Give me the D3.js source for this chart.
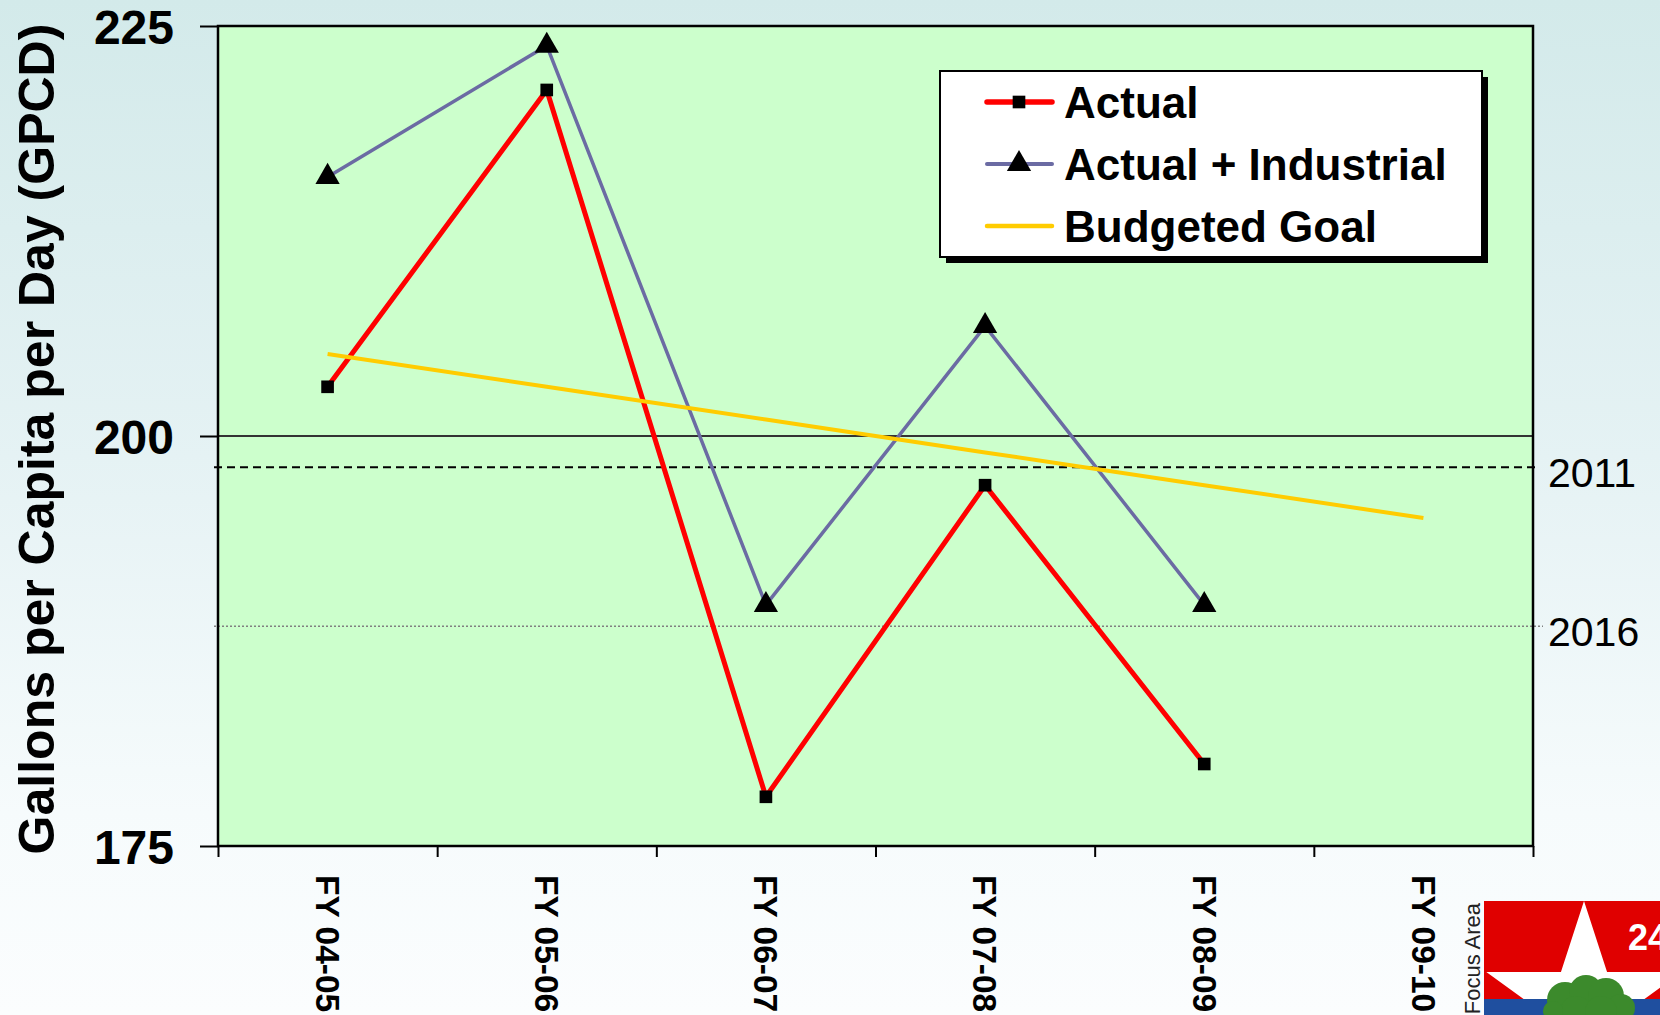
<!DOCTYPE html>
<html>
<head>
<meta charset="utf-8">
<script src="https://cdn.jsdelivr.net/npm/d3@7"></script>
<style>
  html, body { margin: 0; padding: 0; overflow: hidden; background: #ffffff; }
  svg { display: block; }
  text { font-family: "Liberation Sans", Arial, Helvetica, sans-serif; }
</style>
</head>
<body>
<svg id="chart" width="1660" height="1015"></svg>
<script>
// Fiscal years on the category axis
const categories = ["FY 04-05", "FY 05-06", "FY 06-07", "FY 07-08", "FY 08-09", "FY 09-10"];

// Gallons per capita per day, one value per fiscal year
const actual = [203.0, 221.1, 178.0, 197.0, 180.0];
const actualIndustrial = [215.8, 223.8, 189.7, 206.7, 189.7];
const budgetedGoal = [205, 203, 201, 199, 197, 195];

// Conservation targets shown as reference lines
const targetLabels = ["2011", "2016"];
const targetValues = [198.1, 188.4];

// Value axis
const yDomain = [175, 225];
const yTicks = [175, 200, 225];

const seriesNames = ["Actual", "Actual + Industrial", "Budgeted Goal"];

const W = 1660, H = 1015;
const plot = { left: 218, right: 1533, top: 26, bottom: 846 };

const svg = d3.select("#chart");

// page background
const defs = svg.append("defs");
const bg = defs.append("linearGradient").attr("id", "bg").attr("x1", 0).attr("y1", 0).attr("x2", 0).attr("y2", 1);
bg.append("stop").attr("offset", "0").attr("stop-color", "#d3eaea");
bg.append("stop").attr("offset", "0.45").attr("stop-color", "#e5f2f4");
bg.append("stop").attr("offset", "0.8").attr("stop-color", "#f6fbfc");
bg.append("stop").attr("offset", "1").attr("stop-color", "#fbfdfe");
svg.append("rect").attr("width", W).attr("height", H).attr("fill", "url(#bg)");

// scales
const x = d3.scaleBand().domain(categories).range([plot.left, plot.right]);
const xEdge = d3.scaleLinear().domain([0, categories.length]).range([plot.left, plot.right]);
const y = d3.scaleLinear().domain(yDomain).range([plot.bottom, plot.top]);
const cx = i => x(categories[i]) + x.bandwidth() / 2;

// plot area
svg.append("rect")
  .attr("x", plot.left).attr("y", plot.top)
  .attr("width", plot.right - plot.left).attr("height", plot.bottom - plot.top)
  .attr("fill", "#ccffcc");

// major gridlines
svg.append("g").selectAll("line")
  .data(yTicks.filter(v => v > yDomain[0] && v < yDomain[1]))
  .join("line")
  .attr("x1", plot.left).attr("x2", plot.right)
  .attr("y1", d => y(d)).attr("y2", d => y(d))
  .attr("stroke", "#333333").attr("stroke-width", 2);

// target reference lines
const targetStyles = [
  { dash: "8,5", color: "#000000", width: 2, x1: plot.left - 4, x2: plot.right + 6 },
  { dash: "2,2", color: "#808080", width: 1.5, x1: plot.left - 4, x2: plot.right + 10 }
];
targetValues.forEach((v, i) => {
  const s = targetStyles[i];
  svg.append("line")
    .attr("x1", s.x1).attr("x2", s.x2)
    .attr("y1", y(v)).attr("y2", y(v))
    .attr("stroke", s.color).attr("stroke-width", s.width)
    .attr("stroke-dasharray", s.dash);
  svg.append("text")
    .attr("x", plot.right + 15).attr("y", y(v) + 20)
    .attr("font-size", 41).attr("fill", "#000")
    .text(targetLabels[i]);
});

// plot border
svg.append("rect")
  .attr("x", plot.left).attr("y", plot.top)
  .attr("width", plot.right - plot.left).attr("height", plot.bottom - plot.top)
  .attr("fill", "none").attr("stroke", "#000").attr("stroke-width", 2.5);

// value axis
const yAxis = svg.append("g")
  .attr("transform", `translate(${plot.left},0)`)
  .call(d3.axisLeft(y).tickValues(yTicks).tickSize(18).tickSizeOuter(0).tickPadding(26));
yAxis.select(".domain").remove();
yAxis.selectAll(".tick line").attr("stroke", "#000").attr("stroke-width", 2);
yAxis.selectAll(".tick text")
  .attr("font-size", 48).attr("font-weight", "bold").attr("fill", "#000")
  .attr("font-family", "'Liberation Sans', Arial, sans-serif")
  .attr("dy", "0.36em");

// category axis: ticks between categories
const xTickAxis = svg.append("g")
  .attr("transform", `translate(0,${plot.bottom})`)
  .call(d3.axisBottom(xEdge).tickValues(d3.range(categories.length + 1)).tickSize(11).tickSizeOuter(0).tickFormat(""));
xTickAxis.select(".domain").remove();
xTickAxis.selectAll(".tick line").attr("stroke", "#000").attr("stroke-width", 2);

// category labels, set vertically below the axis
const xLabelAxis = svg.append("g")
  .attr("transform", `translate(0,${plot.bottom})`)
  .call(d3.axisBottom(x).tickSize(0));
xLabelAxis.select(".domain").remove();
xLabelAxis.selectAll(".tick text")
  .attr("transform", "rotate(90)")
  .attr("x", 29).attr("y", 0).attr("dy", "0.35em")
  .style("text-anchor", "start")
  .attr("font-size", 33.5).attr("font-weight", "bold").attr("fill", "#000")
  .attr("font-family", "'Liberation Sans', Arial, sans-serif");

// axis title
svg.append("text")
  .attr("transform", `translate(54,439) rotate(-90)`)
  .attr("text-anchor", "middle")
  .attr("font-size", 50).attr("font-weight", "bold").attr("fill", "#000")
  .text("Gallons per Capita per Day (GPCD)");

// series lines
const line = d3.line().x((d, i) => cx(i)).y(d => y(d));
const series = [
  { name: seriesNames[0], values: actual, color: "#ff0000", width: 5, marker: d3.symbolSquare, size: 160 },
  { name: seriesNames[1], values: actualIndustrial, color: "#6b6ba3", width: 3.5, marker: d3.symbolTriangle, size: 255 },
  { name: seriesNames[2], values: budgetedGoal, color: "#ffcc00", width: 4, marker: null, size: 0 }
];

series.forEach(s => {
  svg.append("path")
    .datum(s.values)
    .attr("d", line)
    .attr("fill", "none")
    .attr("stroke", s.color)
    .attr("stroke-width", s.width)
    .attr("stroke-linejoin", "round");
});

series.filter(s => s.marker).forEach(s => {
  svg.append("g").selectAll("path")
    .data(s.values)
    .join("path")
    .attr("transform", (d, i) => `translate(${cx(i)},${y(d)})`)
    .attr("d", d3.symbol().type(s.marker).size(s.size))
    .attr("fill", "#000");
});

// legend
const lg = { x: 940, y: 71, w: 542, h: 186 };
svg.append("rect").attr("x", lg.x + 6).attr("y", lg.y + 6).attr("width", lg.w).attr("height", lg.h).attr("fill", "#000");
svg.append("rect").attr("x", lg.x).attr("y", lg.y).attr("width", lg.w).attr("height", lg.h)
  .attr("fill", "#fff").attr("stroke", "#000").attr("stroke-width", 2);

const rowY = [102, 164, 226];
series.forEach((s, i) => {
  const g = svg.append("g").attr("transform", `translate(0,${rowY[i]})`);
  g.append("line")
    .attr("x1", 987).attr("x2", 1052).attr("y1", 0).attr("y2", 0)
    .attr("stroke", s.color).attr("stroke-width", s.width + 0.5).attr("stroke-linecap", "round");
  if (s.marker) {
    g.append("path")
      .attr("transform", "translate(1019,0)")
      .attr("d", d3.symbol().type(s.marker).size(s.size))
      .attr("fill", "#000");
  }
  g.append("text")
    .attr("x", 1064).attr("y", 0).attr("dy", "0.36em")
    .attr("font-size", 44).attr("font-weight", "bold").attr("fill", "#000")
    .text(s.name);
});

// corner emblem
const logo = svg.append("g");
logo.append("rect").attr("x", 1484).attr("y", 901).attr("width", 200).attr("height", 98).attr("fill", "#e00000");
const R = 102.7, r = R * 0.382, scx = 1584, scy = 1003.7;
const starPts = d3.range(10).map(k => {
  const a = k * Math.PI / 5;
  const rad = k % 2 === 0 ? R : r;
  return [scx + rad * Math.sin(a), scy - rad * Math.cos(a)];
});
logo.append("polygon").attr("points", starPts.map(p => p.join(",")).join(" ")).attr("fill", "#ffffff");
logo.append("rect").attr("x", 1484).attr("y", 999).attr("width", 200).attr("height", 30).attr("fill", "#1f4f9f");
const tree = [[1565, 1000, 18], [1586, 992, 17], [1606, 996, 18], [1621, 1008, 14], [1576, 1012, 16], [1601, 1012, 16], [1553, 1011, 10]];
logo.selectAll("circle").data(tree).join("circle")
  .attr("cx", d => d[0]).attr("cy", d => d[1]).attr("r", d => d[2]).attr("fill", "#3c8a2c");
logo.append("text").attr("x", 1628).attr("y", 950)
  .attr("font-size", 36).attr("font-weight", "bold").attr("fill", "#fff").text("24");
logo.append("text")
  .attr("transform", "translate(1480,903) rotate(-90)")
  .attr("text-anchor", "end")
  .attr("font-size", 22).attr("fill", "#222").text("Focus Area");
</script>
</body>
</html>
